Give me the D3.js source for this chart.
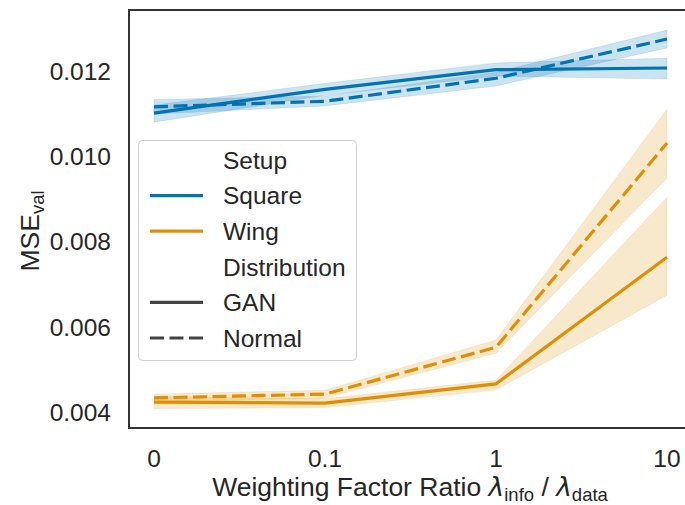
<!DOCTYPE html>
<head>
<meta charset="utf-8">
<style>
  body { margin: 0; background: #fff; }
  text { font-family: "Liberation Sans", Arial, sans-serif; fill: #262626; }
</style>
<script src="https://d3js.org/d3.v7.min.js"></script>
</head>
<body>
<script>
// categories on the x axis
var ratios = ["0", "0.1", "1", "10"];
var yTicks = [0.004, 0.006, 0.008, 0.010, 0.012];

// Square setup
var squareGan      = [0.01101, 0.01157, 0.01203, 0.01207];
var squareGanLo    = [0.01080, 0.01143, 0.01188, 0.01181];
var squareGanHi    = [0.01120, 0.01171, 0.01219, 0.01230];
var squareNormal   = [0.01116, 0.01129, 0.01183, 0.01275];
var squareNormalLo = [0.01099, 0.01118, 0.01165, 0.01254];
var squareNormalHi = [0.01133, 0.01141, 0.01197, 0.01296];

// Wing setup
var wingGan      = [0.00423, 0.00421, 0.00466, 0.00763];
var wingGanLo    = [0.00408, 0.00410, 0.00452, 0.00674];
var wingGanHi    = [0.00436, 0.00431, 0.00475, 0.00904];
var wingNormal   = [0.00433, 0.00442, 0.00552, 0.01031];
var wingNormalLo = [0.00424, 0.00432, 0.00538, 0.00949];
var wingNormalHi = [0.00442, 0.00451, 0.00569, 0.01110];

var blue = "#0173b2", orange = "#de8f05";

var width = 685, height = 505;
var pl = 129, pr = 692, pt = 10, pb = 428;
var fs = "24.5px", fsLab = "26.5px", fsSub = "18.5px";
var dash = "14,5.5";

var svg = d3.select("body").append("svg").attr("width", width).attr("height", height);

var x = d3.scalePoint().domain(ratios).range([154, 667]);
var y = d3.scaleLinear().domain([0.003625, 0.013431]).range([pb, pt]);

var series = [
  {c: blue, dash: null, v: squareGan, lo: squareGanLo, hi: squareGanHi},
  {c: blue, dash: dash, v: squareNormal, lo: squareNormalLo, hi: squareNormalHi},
  {c: orange, dash: null, v: wingGan, lo: wingGanLo, hi: wingGanHi},
  {c: orange, dash: dash, v: wingNormal, lo: wingNormalLo, hi: wingNormalHi}
];

var area = d3.area()
    .x(function(d) { return x(d.r); })
    .y0(function(d) { return y(d.lo); })
    .y1(function(d) { return y(d.hi); });
var line = d3.line()
    .x(function(d) { return x(d.r); })
    .y(function(d) { return y(d.v); });

series.forEach(function(s) {
  var pts = ratios.map(function(r, i) { return {r: r, v: s.v[i], lo: s.lo[i], hi: s.hi[i]}; });
  svg.append("path").attr("d", area(pts))
    .attr("fill", s.c).attr("fill-opacity", 0.2)
    .attr("stroke", s.c).attr("stroke-opacity", 0.12).attr("stroke-width", 1);
  svg.append("path").attr("d", line(pts))
    .attr("fill", "none").attr("stroke", s.c).attr("stroke-width", 3.2)
    .attr("stroke-dasharray", s.dash);
});

// spines
svg.append("path")
  .attr("d", "M" + pr + "," + pt + "H" + pl + "V" + pb + "H" + pr)
  .attr("fill", "none").attr("stroke", "#333").attr("stroke-width", 2);

// y ticks
svg.selectAll(".ytick").data(yTicks).enter().append("text")
  .attr("x", 111).attr("y", function(d) { return y(d); })
  .attr("dy", "0.36em").attr("text-anchor", "end")
  .attr("font-size", fs)
  .text(function(d) { return d3.format(".3f")(d); });

// x ticks
svg.selectAll(".xtick").data(ratios).enter().append("text")
  .attr("x", function(d) { return x(d); }).attr("y", 467)
  .attr("text-anchor", "middle").attr("font-size", fs)
  .text(function(d) { return d; });

// axis labels
var xl = svg.append("text").attr("x", 410).attr("y", 496)
  .attr("text-anchor", "middle").attr("font-size", fsLab);
xl.append("tspan").text("Weighting Factor Ratio ");
xl.append("tspan").attr("font-style", "italic").attr("font-family", "DejaVu Sans").text("λ");
xl.append("tspan").attr("font-size", fsSub).attr("dy", 4.5).text("info");
xl.append("tspan").attr("dy", -4.5).text(" / ");
xl.append("tspan").attr("font-style", "italic").attr("font-family", "DejaVu Sans").text("λ");
xl.append("tspan").attr("font-size", fsSub).attr("dy", 4.5).text("data");

var yl = svg.append("text").attr("transform", "translate(39,231) rotate(-90)")
  .attr("text-anchor", "middle").attr("font-size", fsLab);
yl.append("tspan").text("MSE");
yl.append("tspan").attr("font-size", fsSub).attr("dy", 5).text("val");

// legend
var lg = svg.append("g");
lg.append("rect").attr("x", 138.5).attr("y", 140.5).attr("width", 218).attr("height", 220)
  .attr("rx", 4).attr("fill", "#fff").attr("fill-opacity", 0.8)
  .attr("stroke", "#d0d0d0").attr("stroke-width", 1);
var entries = [
  {t: "Setup", c: null},
  {t: "Square", c: blue, dash: null},
  {t: "Wing", c: orange, dash: null},
  {t: "Distribution", c: null},
  {t: "GAN", c: "#444", dash: null},
  {t: "Normal", c: "#444", dash: dash}
];
entries.forEach(function(e, i) {
  var yy = 160 + i * 35.6;
  if (e.c) {
    lg.append("line").attr("x1", 150).attr("x2", 203).attr("y1", yy).attr("y2", yy)
      .attr("stroke", e.c).attr("stroke-width", 3.2).attr("stroke-dasharray", e.dash);
  }
  lg.append("text").attr("x", 223).attr("y", yy).attr("dy", "0.36em")
    .attr("font-size", fs).text(e.t);
});
</script>
</body>
</html>
